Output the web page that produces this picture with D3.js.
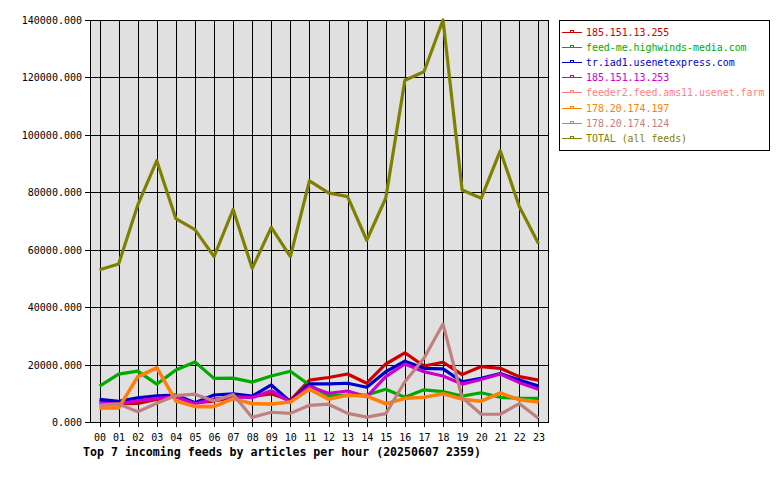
<!DOCTYPE html>
<html>
<head>
<meta charset="utf-8">
<script src="https://cdn.jsdelivr.net/npm/d3@7"></script>
<style>
body { margin: 0; background: #fff; }
text { font-family: "DejaVu Sans Mono", monospace; }
</style>
</head>
<body>
<script>
const WIDTH = 780
const HEIGHT = 480

const hours = ['00','01','02','03','04','05','06','07','08','09','10','11','12','13','14','15','16','17','18','19','20','21','22','23']
const yTicks = [0, 20000, 40000, 60000, 80000, 100000, 120000, 140000]

const feedNames = ['185.151.13.255', 'feed-me.highwinds-media.com', 'tr.iad1.usenetexpress.com', '185.151.13.253',
  'feeder2.feed.ams11.usenet.farm', '178.20.174.197', '178.20.174.124', 'TOTAL (all feeds)']
const feedColors = ['#cc0000', '#00aa00', '#0000cc', '#cc00cc', '#ff8080', '#ff8000', '#c08080', '#808000']

const red255 = [7000, 6400, 6500, 7900, 8800, 6700, 7300, 8600, 8900, 9800, 7500, 14600, 15500, 16700, 13500, 20200, 24100, 19500, 20800, 16500, 19300, 18700, 15800, 14600]
const highwinds = [12500, 16700, 17700, 13200, 18100, 20900, 15200, 15300, 13900, 16000, 17700, 12900, 9100, 9400, 9400, 11400, 8600, 11200, 10600, 9000, 10200, 8600, 8200, 8200]
const iad1 = [7900, 7200, 8400, 9100, 9400, 6700, 9400, 9800, 9000, 12900, 7100, 13300, 13300, 13500, 12100, 17500, 21200, 18700, 18500, 14000, 15200, 16900, 14600, 12500]
const mag253 = [6500, 6300, 7400, 8200, 8800, 6300, 7900, 8800, 8500, 10900, 6900, 12400, 10000, 10800, 8800, 15800, 20200, 17500, 16000, 13200, 14800, 16700, 13700, 11400]
const ams11 = [5000, 5000, 15600, 18800, 7200, 5500, 5500, 8000, 6500, 6100, 7000, 11300, 8000, 9200, 9100, 6500, 8100, 8700, 9700, 8000, 7300, 10000, 7800, 7000]
const ip197 = [4800, 4800, 15800, 19000, 7400, 5300, 5300, 8200, 6300, 6300, 6900, 11500, 7900, 9400, 9000, 6300, 8300, 8600, 9900, 7900, 7200, 10200, 7700, 6900]
const ip124 = [5900, 6300, 3600, 6500, 9200, 9700, 7300, 9600, 1600, 3400, 3000, 5800, 6200, 3000, 1700, 2900, 14000, 22200, 34100, 8500, 2700, 2700, 6400, 1300]
const total = [53000, 55000, 75500, 91000, 70800, 67000, 57600, 74000, 53500, 67800, 57600, 84000, 79800, 78500, 63300, 78000, 119000, 122000, 140000, 80800, 77900, 94500, 75000, 62200]

const titleText = 'Top 7 incoming feeds by articles per hour (20250607 2359)'

const series = [red255, highwinds, iad1, mag253, ams11, ip197, ip124, total]

const svg = d3.select('body').append('svg').attr('width', WIDTH).attr('height', HEIGHT)

const x = d3.scalePoint().domain(hours).range([90, 548]).padding(0.5)
const y = d3.scaleLinear().domain([0, 140000]).range([422, 20])

// plot background
svg.append('rect')
  .attr('x', 90.5).attr('y', 20.5).attr('width', 458).attr('height', 402)
  .attr('fill', '#e0e0e0')

// grid
svg.append('g').selectAll('line').data(hours).enter().append('line')
  .attr('x1', d => Math.round(x(d)) + 0.5).attr('x2', d => Math.round(x(d)) + 0.5)
  .attr('y1', 20).attr('y2', 427)
  .attr('stroke', '#000').attr('shape-rendering', 'crispEdges')
svg.append('g').selectAll('line').data(yTicks).enter().append('line')
  .attr('x1', 85).attr('x2', 548)
  .attr('y1', d => Math.round(y(d)) + 0.5).attr('y2', d => Math.round(y(d)) + 0.5)
  .attr('stroke', '#000').attr('shape-rendering', 'crispEdges')

// frame
svg.append('rect')
  .attr('x', 90.5).attr('y', 20.5).attr('width', 458).attr('height', 402)
  .attr('fill', 'none').attr('stroke', '#000').attr('shape-rendering', 'crispEdges')

// axis labels
svg.append('g').selectAll('text').data(yTicks).enter().append('text')
  .attr('x', 82).attr('y', d => y(d) + 4)
  .attr('text-anchor', 'end').attr('font-size', 10)
  .text(d => d3.format('.3f')(d))
svg.append('g').selectAll('text').data(hours).enter().append('text')
  .attr('x', d => x(d) + 0.5).attr('y', 441)
  .attr('text-anchor', 'middle').attr('font-size', 10)
  .text(d => d)

// lines
const line = d3.line().x((d, i) => x(hours[i])).y(d => y(d))
svg.append('g').selectAll('path').data(series).enter().append('path')
  .attr('d', d => line(d))
  .attr('fill', 'none')
  .attr('stroke', (d, i) => feedColors[i])
  .attr('stroke-width', 3.2)
  .attr('stroke-linejoin', 'round')

// title
svg.append('text')
  .attr('x', 83).attr('y', 456)
  .attr('font-size', 11.6).attr('font-weight', 'bold')
  .text(titleText)

// legend
const legend = svg.append('g')
legend.append('rect')
  .attr('x', 559.5).attr('y', 20.5).attr('width', 210).attr('height', 130)
  .attr('fill', '#fff').attr('stroke', '#000').attr('shape-rendering', 'crispEdges')
const items = legend.selectAll('g.item').data(feedNames).enter().append('g')
  .attr('transform', (d, i) => `translate(0, ${32 + i * 15.1})`)
items.append('line')
  .attr('x1', 562).attr('x2', 582).attr('y1', 0.5).attr('y2', 0.5)
  .attr('stroke', (d, i) => feedColors[i]).attr('shape-rendering', 'crispEdges')
items.append('rect')
  .attr('x', 570.5).attr('y', -1.5).attr('width', 3).attr('height', 2)
  .attr('fill', 'none')
  .attr('stroke', (d, i) => feedColors[i]).attr('shape-rendering', 'crispEdges')
items.append('text')
  .attr('x', 586).attr('y', 4)
  .attr('font-size', 9.9)
  .attr('fill', (d, i) => feedColors[i])
  .text(d => d)
</script>
</body>
</html>
